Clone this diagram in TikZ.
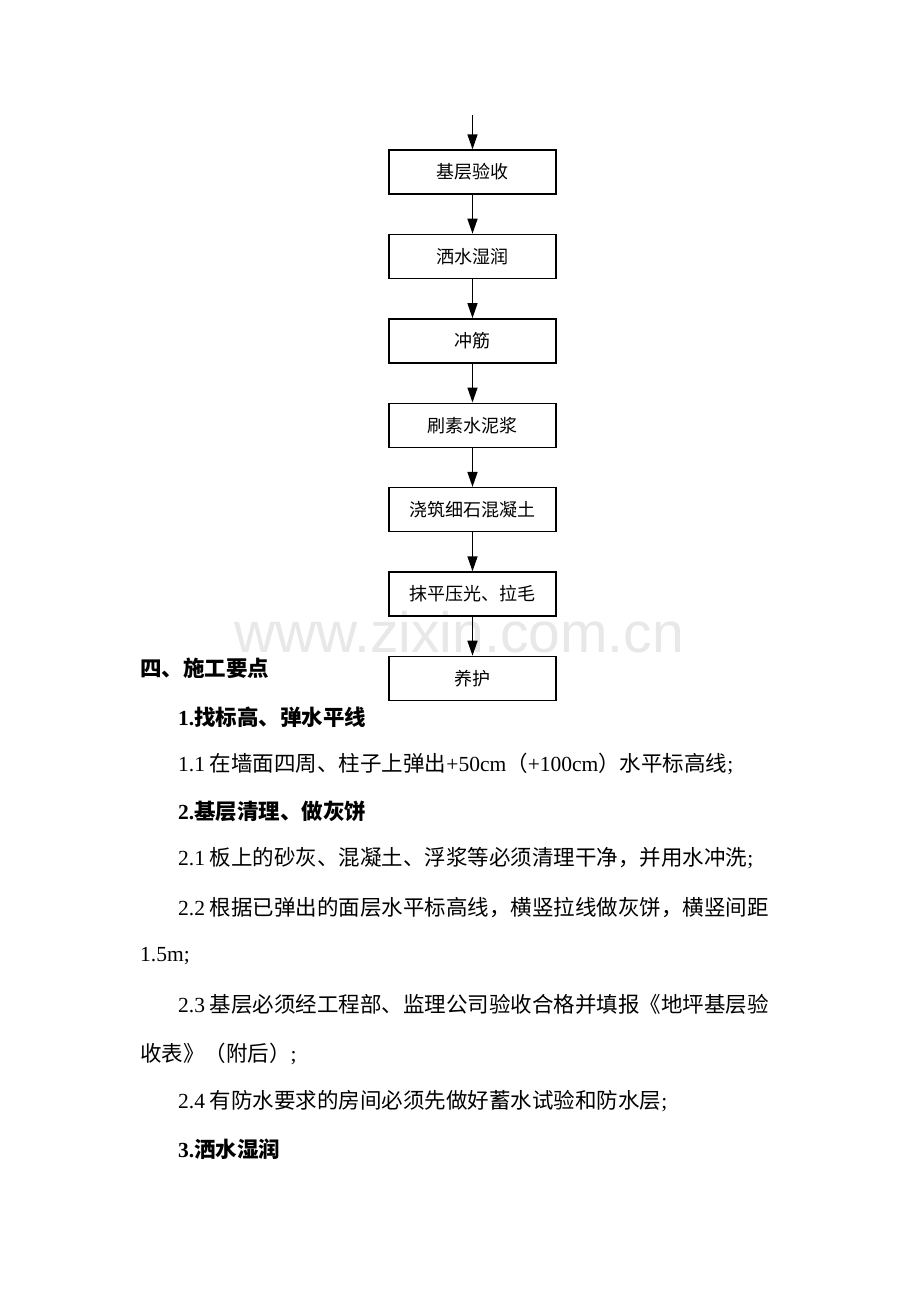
\documentclass[tikz,border=0pt]{standalone}
\usepackage{fontspec}
\setmainfont{Noto Sans CJK SC}
\newfontfamily\latinfont{Liberation Serif}
\newfontfamily\markfont{Liberation Sans}
\usetikzlibrary{positioning}
\usepgflibrary{arrows.meta}

\newcommand{\dig}[1]{{\latinfont #1}}

\tikzset{
  stepbox/.style={draw, line width=1.4pt, minimum width=167pt, minimum height=44pt,
    inner sep=0pt, font=\fontsize{18}{18}\selectfont},
  flowarrow/.style={line width=1.5pt, -{Triangle[length=15pt, width=10pt]}},
  bodyline/.style={anchor=west, inner sep=0pt, font=\fontsize{21.5}{21.5}\selectfont},
  headline/.style={bodyline, font=\fontsize{21.5}{21.5}\selectfont\bfseries},
}

\begin{document}
\begin{tikzpicture}[x=1pt, y=-1pt]
    \useasboundingbox[fill=white] (0, 0) rectangle (920, 1302);
    % watermark
    \node[text=gray!18, font=\markfont\fontsize{57}{57}\selectfont, inner sep=0pt] (mark) at (459, 632) {www.zixin.com.cn};
    % flow chart
    \coordinate (top) at (472.5, 115);
    \node[stepbox] (b1) at (472.5, 172) {基层验收};
    \node[stepbox, below=39pt of b1] (b2) {洒水湿润};
    \node[stepbox, below=39pt of b2] (b3) {冲筋};
    \node[stepbox, below=39pt of b3] (b4) {刷素水泥浆};
    \node[stepbox, below=39pt of b4] (b5) {浇筑细石混凝土};
    \node[stepbox, below=39pt of b5] (b6) {抹平压光、拉毛};
    \node[stepbox, below=39pt of b6] (b7) {养护};
    \draw[flowarrow] (top) -- (b1);
    \foreach \a/\b in {b1/b2, b2/b3, b3/b4, b4/b5, b5/b6, b6/b7} {\draw[flowarrow] (\a) -- (\b);}
    % text
    \node[headline] (h4) at (140, 668) {四、施工要点};
    \node[headline] (h41) at (178, 717) {\dig{1.}找标高、弹水平线};
    \node[bodyline] (t11) at (178, 764) {\dig{1.1} 在墙面四周、柱子上弹出\dig{+50cm}（\dig{+100cm}）水平标高线\dig{;}};
    \node[headline] (h42) at (178, 811) {\dig{2.}基层清理、做灰饼};
    \node[bodyline] (t21) at (178, 858) {\dig{2.1} 板上的砂灰、混凝土、浮浆等必须清理干净，并用水冲洗\dig{;}};
    \node[bodyline] (t22) at (178, 908) {\dig{2.2} 根据已弹出的面层水平标高线，横竖拉线做灰饼，横竖间距};
    \node[bodyline] (t22b) at (140, 956) {\dig{1.5m;}};
    \node[bodyline] (t23) at (178, 1004) {\dig{2.3} 基层必须经工程部、监理公司验收合格并填报《地坪基层验};
    \node[bodyline] (t23b) at (140, 1054) {收表》（附后）\dig{;}};
    \node[bodyline] (t24) at (178, 1101) {\dig{2.4} 有防水要求的房间必须先做好蓄水试验和防水层\dig{;}};
    \node[headline] (h43) at (178, 1149) {\dig{3.}洒水湿润};
\end{tikzpicture}
\end{document}
